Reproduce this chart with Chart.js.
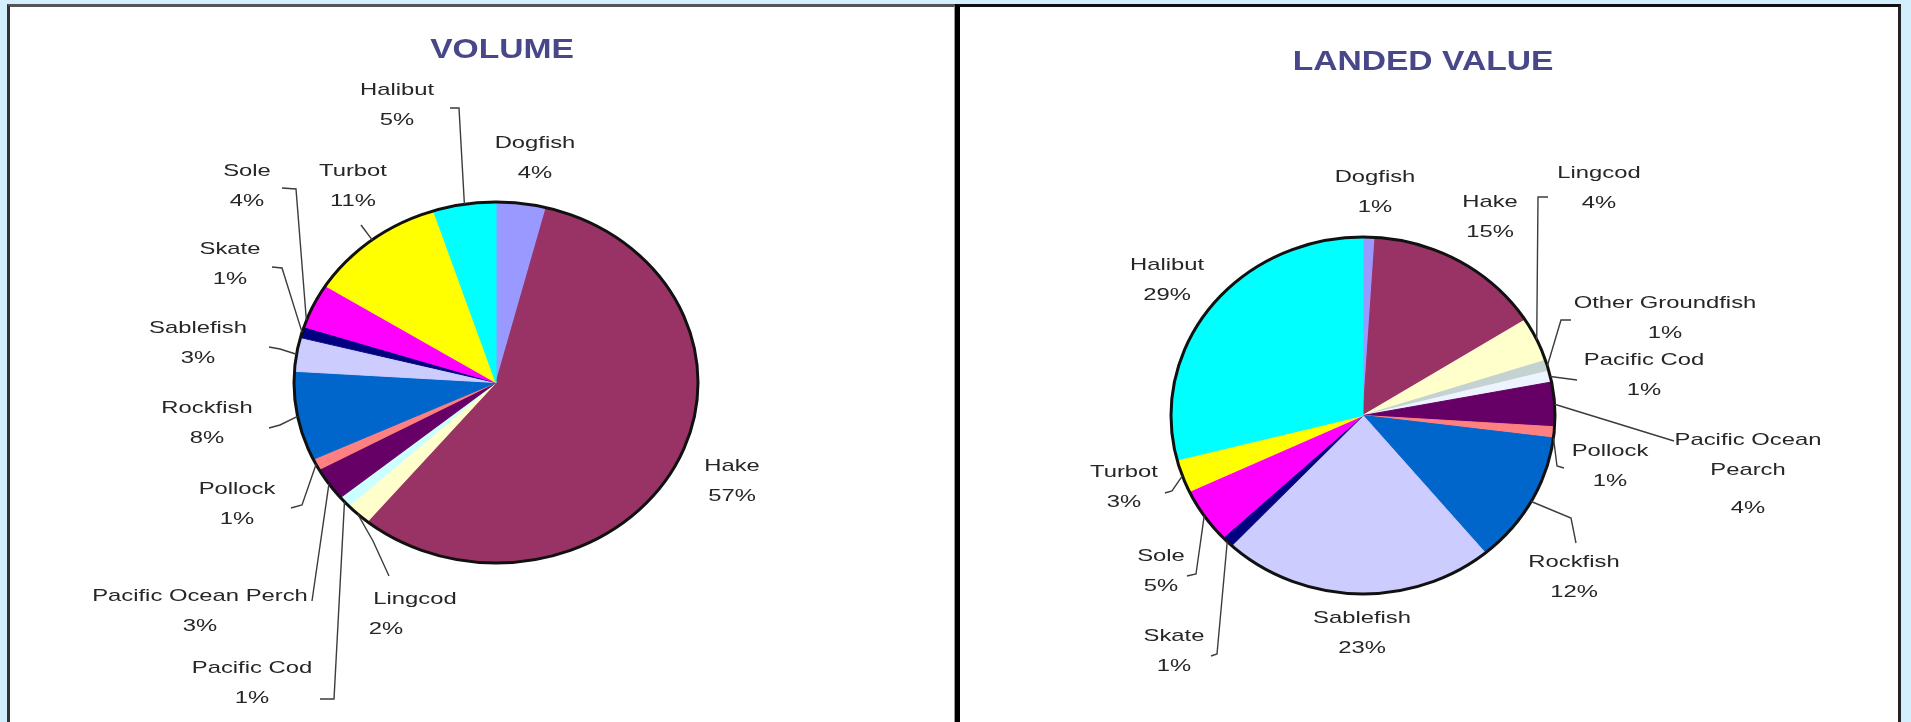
<!DOCTYPE html>
<html lang="en">
<head>
<meta charset="UTF-8">
<title>Groundfish Landings - Volume and Landed Value</title>
<style>
    * { margin: 0; padding: 0; box-sizing: border-box; }
    body {
        width: 1911px;
        height: 722px;
        overflow: hidden;
        position: relative;
        background: #d3effd;
        font-family: "Liberation Sans", Arial, sans-serif;
    }
    .panel {
        position: absolute;
        top: 4px;
        height: 760px;
        background: #fff;
    }
    #panelVolume {
        left: 7px;
        width: 949px;
        border-left: 3px solid #333;
        border-top: 3px solid #555;
        border-right: 2px solid #999;
    }
    #panelValue {
        left: 955px;
        width: 946px;
        border-left: 5px solid #000;
        border-top: 3px solid #111;
        border-right: 3px solid #222;
    }
    canvas { position: absolute; left: 0; top: 0; pointer-events: none; }
</style>
<script src="https://cdn.jsdelivr.net/npm/chart.js"></script>
</head>
<body>
<div class="panel" id="panelVolume"></div>
<div class="panel" id="panelValue"></div>
<canvas id="volumeChart" width="1911" height="722"></canvas>
<canvas id="valueChart" width="1911" height="722"></canvas>

<script>
// share of total (%) by species
const volumeSpecies = ['Dogfish', 'Hake', 'Lingcod', 'Pacific Cod', 'Pacific Ocean Perch', 'Pollock',
    'Rockfish', 'Sablefish', 'Skate', 'Sole', 'Turbot', 'Halibut'];
const volumeShare = [4, 57, 2, 1, 3, 1, 8, 3, 1, 4, 11, 5];

const valueSpecies = ['Dogfish', 'Hake', 'Lingcod', 'Other Groundfish', 'Pacific Cod', 'Pacific Ocean Pearch',
    'Pollock', 'Rockfish', 'Sablefish', 'Skate', 'Sole', 'Turbot', 'Halibut'];
const valueShare = [1, 15, 4, 1, 1, 4, 1, 12, 23, 1, 5, 3, 29];

// slice colours
const volumeColors = ['#9999ff', '#993366', '#ffffcc', '#ccffff', '#660066', '#ff8080',
    '#0066cc', '#ccccff', '#000080', '#ff00ff', '#ffff00', '#00ffff'];
const valueColors = ['#9999ff', '#993366', '#ffffcc', '#c4d2d2', '#eef4ff', '#660066',
    '#ff8080', '#0066cc', '#ccccff', '#000080', '#ff00ff', '#ffff00', '#00ffff'];

// label placement (page px): centre of first text line, optional leader points toward the slice
const volumeLabels = [
    { x: 535, y: 143 },
    { x: 732, y: 466 },
    { x: 415, y: 599, x2: 386, leader: [[389, 576], [373, 541]] },
    { x: 252, y: 668, leader: [[320, 699], [334, 699]] },
    { x: 200, y: 596, leader: [[312, 601]] },
    { x: 237, y: 489, leader: [[291, 508], [302, 505]] },
    { x: 207, y: 408, leader: [[269, 428], [280, 425]] },
    { x: 198, y: 328, leader: [[269, 347], [280, 349]] },
    { x: 230, y: 249, leader: [[272, 267], [282, 268]] },
    { x: 247, y: 171, leader: [[282, 188], [296, 189]], at: 0.15 },
    { x: 353, y: 171, leader: [[361, 225]] },
    { x: 397, y: 90, leader: [[450, 108], [459, 108]] }
];
const valueLabels = [
    { x: 1375, y: 177 },
    { x: 1490, y: 202 },
    { x: 1599, y: 173, leader: [[1548, 197], [1538, 197]] },
    { x: 1665, y: 303, leader: [[1571, 320], [1561, 320]] },
    { x: 1644, y: 360, leader: [[1577, 380]] },
    { x: 1748, y: 440, split: 2, pctGap: 38, leader: [[1674, 441]] },
    { x: 1610, y: 451, leader: [[1564, 468], [1557, 466]], at: 1 },
    { x: 1574, y: 562, leader: [[1576, 543], [1571, 518]] },
    { x: 1362, y: 618 },
    { x: 1174, y: 636, leader: [[1211, 656], [1217, 654]] },
    { x: 1161, y: 556, leader: [[1187, 576], [1196, 574]] },
    { x: 1124, y: 472, leader: [[1165, 493], [1172, 491]] },
    { x: 1167, y: 265 }
];

const LINE_GAP = 30;
const TEXT_COLOR = '#262626';

function stretchedText(ctx, text, x, y, sx) {
    ctx.save();
    ctx.translate(x, y);
    ctx.scale(sx, 1);
    ctx.fillText(text, 0, 0);
    ctx.restore();
}

// plugin that squashes the pie into an ellipse and adds outline, title, labels and leaders
function pieDecor(cfg) {
    return {
        id: 'pieDecor',
        beforeDatasetsDraw(chart) {
            const arc = chart.getDatasetMeta(0).data[0];
            const ctx = chart.ctx;
            ctx.save();
            ctx.translate(arc.x, arc.y);
            ctx.scale(cfg.stretch, 1);
            ctx.translate(-arc.x, -arc.y);
        },
        afterDatasetsDraw(chart) {
            const ctx = chart.ctx;
            const meta = chart.getDatasetMeta(0);
            const first = meta.data[0];
            const cx = first.x, cy = first.y, r = first.outerRadius;

            ctx.beginPath();
            ctx.arc(cx, cy, r, 0, Math.PI * 2);
            ctx.restore();
            ctx.lineWidth = 3;
            ctx.strokeStyle = '#111';
            ctx.stroke();

            // title
            ctx.fillStyle = '#47478a';
            ctx.font = 'bold 28px "Liberation Sans", Arial, sans-serif';
            ctx.textAlign = 'center';
            ctx.textBaseline = 'middle';
            stretchedText(ctx, cfg.title, cfg.titleX, cfg.titleY, 1.2);

            const names = chart.data.labels;
            const values = chart.data.datasets[0].data;

            // leader lines
            ctx.strokeStyle = '#3c3c3c';
            ctx.lineWidth = 1.4;
            meta.data.forEach((el, i) => {
                const lab = cfg.labels[i];
                if (!lab.leader) return;
                const f = typeof lab.at === 'number' ? lab.at : 0.5;
                const a = el.startAngle + f * (el.endAngle - el.startAngle);
                const ex = cx + cfg.stretch * r * Math.cos(a);
                const ey = cy + r * Math.sin(a);
                ctx.beginPath();
                ctx.moveTo(lab.leader[0][0], lab.leader[0][1]);
                lab.leader.slice(1).forEach(p => ctx.lineTo(p[0], p[1]));
                ctx.lineTo(ex, ey);
                ctx.stroke();
            });

            // labels: name (possibly wrapped) then percentage
            ctx.fillStyle = TEXT_COLOR;
            ctx.font = '17px "Liberation Sans", Arial, sans-serif';
            names.forEach((name, i) => {
                const lab = cfg.labels[i];
                let lines = [name];
                if (lab.split) {
                    const words = name.split(' ');
                    lines = [words.slice(0, lab.split).join(' '), words.slice(lab.split).join(' ')];
                }
                let y = lab.y;
                lines.forEach(t => {
                    stretchedText(ctx, t, lab.x, y, 1.4);
                    y += LINE_GAP;
                });
                const pctY = y - LINE_GAP + (lab.pctGap || LINE_GAP);
                stretchedText(ctx, values[i] + '%', lab.x2 || lab.x, pctY, 1.4);
            });
        }
    };
}

function makePie(id, species, share, colors, cfg) {
    return new Chart(document.getElementById(id), {
        type: 'pie',
        data: {
            labels: species,
            datasets: [{
                data: share,
                backgroundColor: colors,
                borderColor: colors,
                borderWidth: 1,
                clip: false
            }]
        },
        options: {
            responsive: false,
            animation: false,
            events: [],
            radius: cfg.radius,
            layout: { padding: cfg.padding },
            plugins: {
                legend: { display: false },
                tooltip: { enabled: false }
            }
        },
        plugins: [pieDecor(cfg)]
    });
}

makePie('volumeChart', volumeSpecies, volumeShare, volumeColors, {
    radius: 180.5,
    stretch: 202 / 180.5,
    padding: { left: 300, right: 1219, top: 202, bottom: 159 },
    title: 'VOLUME', titleX: 502, titleY: 50,
    labels: volumeLabels
});

makePie('valueChart', valueSpecies, valueShare, valueColors, {
    radius: 178.5,
    stretch: 192 / 178.5,
    padding: { left: 1171, right: 356, top: 237, bottom: 128 },
    title: 'LANDED VALUE', titleX: 1423, titleY: 62,
    labels: valueLabels
});
</script>
</body>
</html>
